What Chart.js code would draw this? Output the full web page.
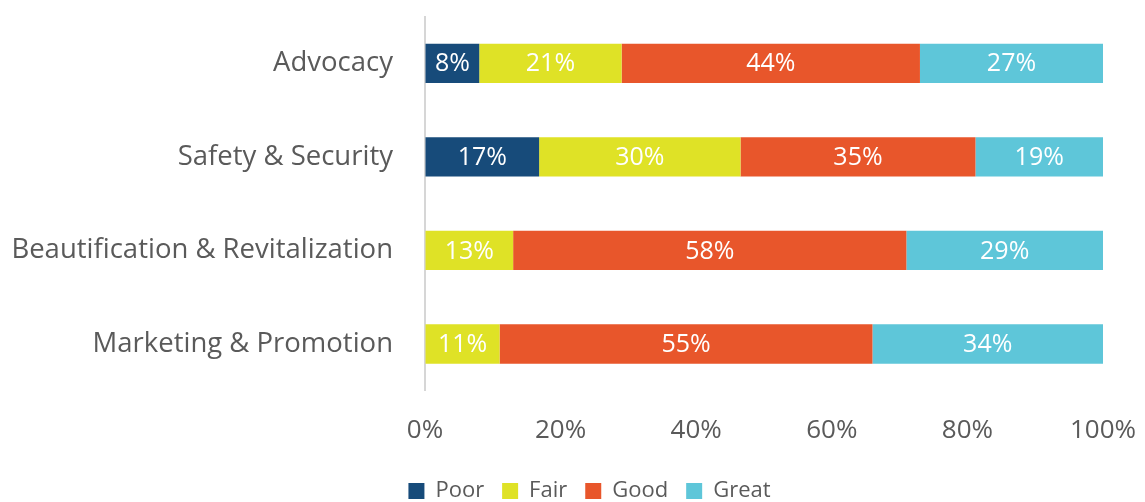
<!DOCTYPE html>
<html>
<head>
<meta charset="utf-8">
<script src="https://cdn.jsdelivr.net/npm/chart.js@4/dist/chart.umd.min.js"></script>
<style>
  html, body { margin: 0; padding: 0; background: #fff; overflow: hidden; }
  #wrap { width: 1145px; height: 502px; position: relative; }
</style>
</head>
<body>
<div id="wrap"><canvas id="chart1"></canvas></div>
<script>
var categories = ["Advocacy", "Safety & Security", "Beautification & Revitalization", "Marketing & Promotion"];
var seriesNames = ["Poor", "Fair", "Good", "Great"];
var poor = [8, 17, 0, 0];
var fair = [21, 30, 13, 11];
var good = [44, 35, 58, 55];
var great = [27, 19, 29, 34];
var tickLabels = ["0%", "20%", "40%", "60%", "80%", "100%"];

var colors = ["#174b7a", "#dfe226", "#e8562b", "#5ec6d9"];
var series = [poor, fair, good, great];

// rows don't always add to exactly 100, so scale each row to its total
var rowTotals = categories.map((c, i) => series.reduce((s, arr) => s + arr[i], 0));

var barLabels = {
  id: "barLabels",
  afterDatasetsDraw(chart) {
    var ctx = chart.ctx;
    ctx.save();
    ctx.font = "25px 'Open Sans'";
    ctx.fillStyle = "#ffffff";
    ctx.textAlign = "center";
    ctx.textBaseline = "middle";
    chart.data.datasets.forEach((ds, di) => {
      chart.getDatasetMeta(di).data.forEach((bar, i) => {
        var v = series[di][i];
        if (!v) return;
        var cx = (bar.x + bar.base) / 2;
        ctx.fillText(v + "%", cx, bar.y + 1);
      });
    });
    ctx.restore();
  }
};

// nudge the legend a bit right and down, like the original
var legendShift = {
  id: "legendShift",
  afterLayout(chart) {
    var lg = chart.legend;
    lg.left += 38; lg.right += 38;
    lg.top += 10; lg.bottom += 10;
  }
};

Chart.defaults.font.family = "'Open Sans'";
Chart.defaults.color = "#5a5a5a";

new Chart(document.getElementById("chart1").getContext("2d"), {
  type: "bar",
  data: {
    labels: categories,
    datasets: series.map((arr, k) => ({
      label: seriesNames[k],
      backgroundColor: colors[k],
      data: arr.map((v, i) => v / rowTotals[i] * 100),
      barPercentage: 0.42,
      categoryPercentage: 1
    }))
  },
  options: {
    indexAxis: "y",
    responsive: true,
    maintainAspectRatio: false,
    animation: false,
    layout: { padding: { top: 0, right: 42, left: 0, bottom: 0 } },
    plugins: {
      tooltip: { enabled: false },
      legend: {
        position: "bottom",
        labels: {
          boxWidth: 16,
          boxHeight: 16,
          padding: 18,
          font: { size: 22 },
          color: "#5a5a5a"
        }
      }
    },
    scales: {
      x: {
        stacked: true,
        min: 0,
        max: 100,
        grid: { display: true, drawOnChartArea: false, drawTicks: true, tickLength: 24, tickColor: "rgba(0,0,0,0)" },
        border: { display: false },
        afterFit: (scale) => { scale.height += 6; },
        ticks: {
          stepSize: 20,
          padding: 0,
          font: { size: 26 },
          callback: (v, i) => tickLabels[i]
        }
      },
      y: {
        stacked: true,
        grid: { display: true, drawOnChartArea: false, drawTicks: true, tickLength: 32, tickColor: "rgba(0,0,0,0)" },
        border: { display: true, color: "#d6d6d6", width: 2 },
        afterFit: (scale) => { scale.width = 425; },
        ticks: { padding: 0, font: { size: 27.5 }, color: "#5a5a5a" }
      }
    }
  },
  plugins: [barLabels, legendShift]
});
</script>
</body>
</html>
